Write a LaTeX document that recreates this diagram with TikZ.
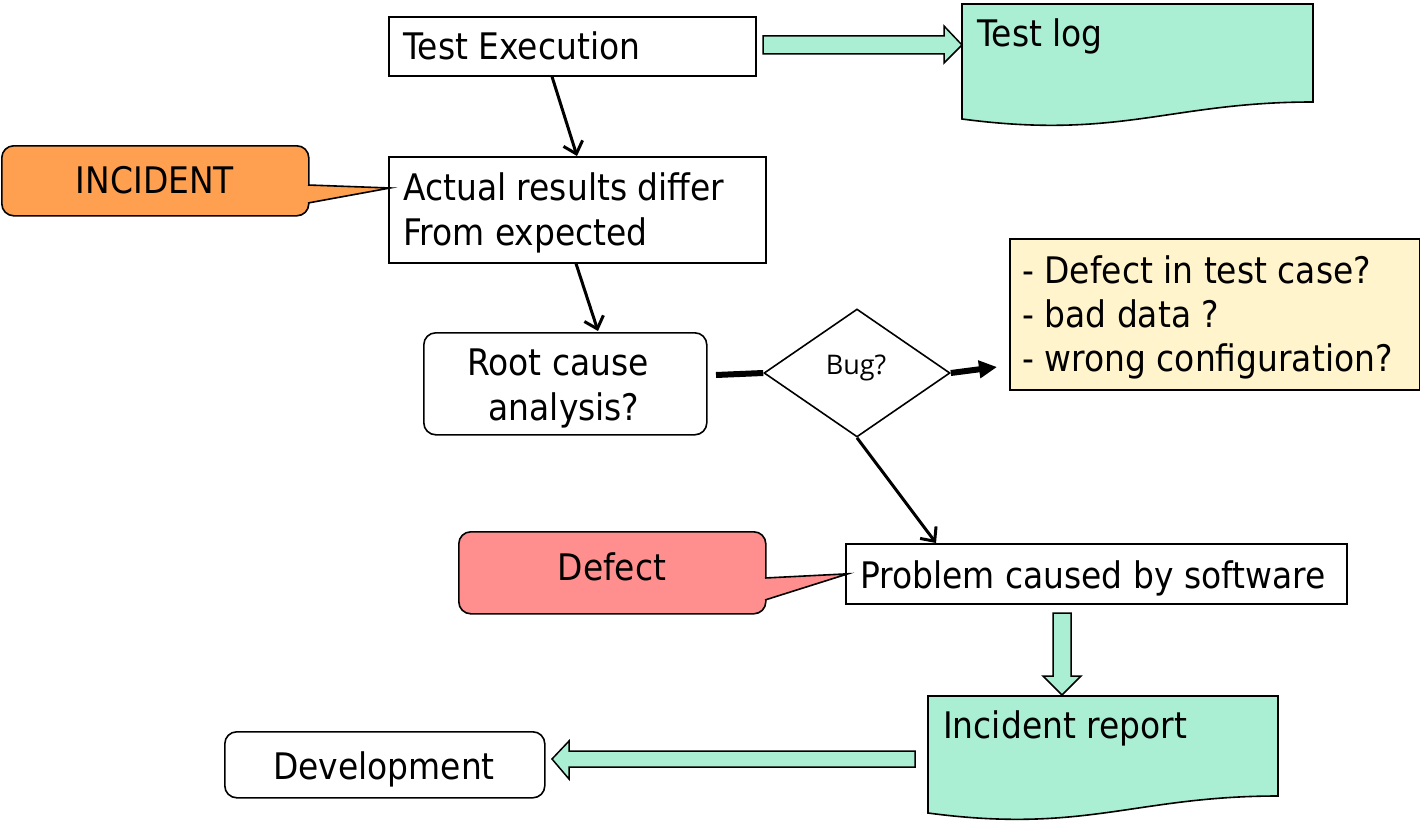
\documentclass[tikz,border=0pt]{standalone}
\usepackage{fontspec}
\setmainfont{DejaVu Sans}[FakeStretch=0.9]
\newfontfamily\bugfont{Open Sans}
\usetikzlibrary{arrows.meta,shapes.geometric,calc}
\definecolor{mint}{RGB}{170,238,212}
\definecolor{incor}{RGB}{255,160,80}
\definecolor{defred}{RGB}{255,142,142}
\definecolor{ylw}{RGB}{255,244,204}
\begin{document}
\begin{tikzpicture}[x=1pt,y=-1pt,
  box/.style={draw,line width=1.6pt,fill=white,inner sep=0pt,anchor=north west},
  rbox/.style={box,rounded corners=12pt},
  txt/.style={inner sep=0pt,anchor=base west,font=\fontsize{36.6}{44}\selectfont},
  ctxt/.style={txt,anchor=base},
  blk/.style={draw,line width=1.5pt,fill=mint,line join=miter},
  conn/.style={line width=3pt,-{Straight Barb[length=11pt,width=20pt]}},
  thick conn/.style={line width=6pt},
  pointer/.style={line width=1.6pt,line join=miter}]
\useasboundingbox (0,0) rectangle (1420,824);

% documents
\draw[line width=1.6pt,fill=mint] (962,4) coordinate (tlnw) -- (1313,4) -- (1313,102)
  .. controls (1170,102) and (1120,140) .. (962,119) -- cycle;
\node[txt] (tlt) at (977,47) {Test log};
\draw[line width=1.6pt,fill=mint] (928,696) coordinate (irnw) -- (1278,696) -- (1278,796)
  .. controls (1135,796) and (1085,834) .. (928,813) -- cycle;
\node[txt] (irt) at (943,738) {Incident report};

% boxes
\node[box,minimum width=367pt,minimum height=59pt] (te) at (388,16) {};
\node[txt] (tet) at (403,60) {Test Execution};

\node[box,minimum width=377pt,minimum height=106pt] (ar) at (388,156) {};
\node[txt] (art1) at (403,200) {Actual results differ};
\node[txt] (art2) at (403,245) {From expected};

\node[rbox,minimum width=283pt,minimum height=102pt] (rc) at (423,332) {};
\node[ctxt] (rct1) at (558,375) {Root cause};
\node[ctxt] (rct2) at (564,420) {analysis?};

\node[draw,line width=1.6pt,diamond,inner sep=0pt,minimum width=186pt,minimum height=128pt,fill=white] (bug) at (857,373) {};
\node[inner sep=0pt,anchor=base,font=\bugfont\fontsize{27}{32}\selectfont] (bugt) at (856,374) {Bug?};

\node[box,fill=ylw,minimum width=410pt,minimum height=151pt] (yb) at (1009,238) {};
\node[txt] (yb1) at (1022,283) {- Defect in test case?};
\node[txt] (yb2) at (1022,327) {- bad data ?};
\node[txt] (yb3) at (1022,371) {- wrong configuration?};

\node[box,minimum width=501pt,minimum height=60pt] (pb) at (845,543) {};
\node[txt] (pbt) at (860,588) {Problem caused by software};

\node[rbox,minimum width=320pt,minimum height=66pt] (dev) at (224,731) {};
\node[ctxt] (devt) at (384,779) {Development};

% callouts
\node[rbox,fill=incor,minimum width=307pt,minimum height=70pt] (inc) at (1,145) {};
\coordinate (inctip) at ($(ar.north west)+(2,32)$);
\fill[incor] (306,185) -- (inctip) -- (306,203) -- cycle;
\draw[pointer] (308,185) -- (inctip) -- (308,203);
\node[ctxt] (inct) at (155,193) {INCIDENT};

\node[rbox,fill=defred,minimum width=307pt,minimum height=82pt] (def) at (458,531) {};
\coordinate (deftip) at ($(pb.west)+(3,0)$);
\fill[defred] (763,578) -- (deftip) -- (763,600) -- cycle;
\draw[pointer] (765,578) -- (deftip) -- (765,600);
\node[ctxt] (deft) at (612,580) {Defect};

% connectors
\draw[conn] ($(te.south west)+(164,0)$) -- ($(ar.north west)+(189,0)$);
\draw[conn] ($(ar.south west)+(188,0)$) -- ($(rc.north west)+(175,-1)$);
\coordinate (rcend) at (716,375);
\draw[thick conn] (rcend) -- (bug.west);
\coordinate (ybarr) at (997,367);
\draw[thick conn,-{Triangle[length=18pt,width=17pt]}] (bug.east) -- (ybarr);
\draw[conn] (bug.south) -- ($(pb.north west)+(91,0)$);

% block arrows
\draw[blk] (763,36) coordinate (a1s) -- (944,36) -- (944,26) -- (tlnw |- 0,45) -- (944,63) -- (944,54) -- (763,54) -- cycle;
\draw[blk] (1053,613) coordinate (a2s) -- (1071,613) -- (1071,676) -- (1081,676) -- (1062,695) -- (1043,676) -- (1053,676) -- cycle;
\draw[blk] (915,751) coordinate (a3s) -- (569,751) -- (569,741) -- (552,759) -- (569,779) -- (569,767) -- (915,767) -- cycle;
\end{tikzpicture}
\end{document}
